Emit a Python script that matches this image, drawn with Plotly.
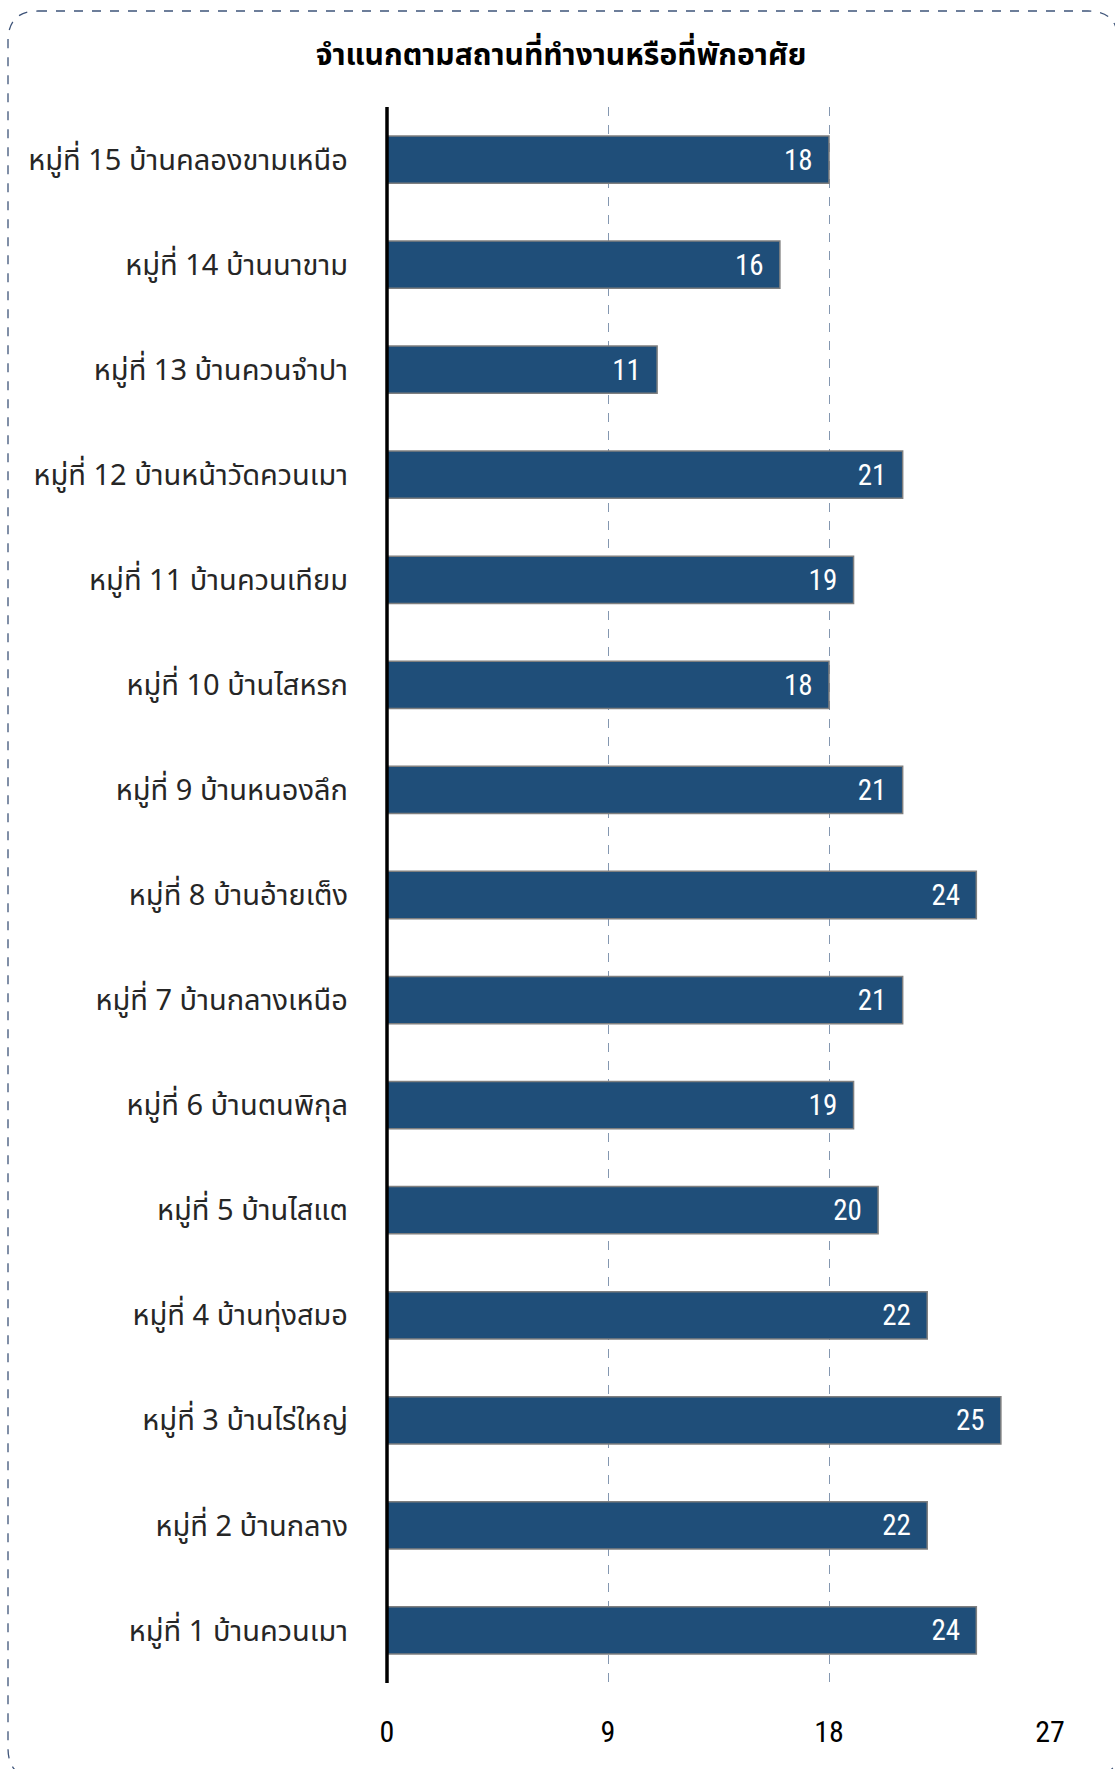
import plotly.graph_objects as go

# Villages (bottom to top) and counts
villages = [
    "หมู่ที่ 1 บ้านควนเมา",
    "หมู่ที่ 2 บ้านกลาง",
    "หมู่ที่ 3 บ้านไร่ใหญ่",
    "หมู่ที่ 4 บ้านทุ่งสมอ",
    "หมู่ที่ 5 บ้านไสแต",
    "หมู่ที่ 6 บ้านตนพิกุล",
    "หมู่ที่ 7 บ้านกลางเหนือ",
    "หมู่ที่ 8 บ้านอ้ายเต็ง",
    "หมู่ที่ 9 บ้านหนองลึก",
    "หมู่ที่ 10 บ้านไสหรก",
    "หมู่ที่ 11 บ้านควนเทียม",
    "หมู่ที่ 12 บ้านหน้าวัดควนเมา",
    "หมู่ที่ 13 บ้านควนจำปา",
    "หมู่ที่ 14 บ้านนาขาม",
    "หมู่ที่ 15 บ้านคลองขามเหนือ",
]
counts = [24, 22, 25, 22, 20, 19, 21, 24, 21, 18, 19, 21, 11, 16, 18]
x_ticks = [0, 9, 18, 27]
title_text = "จำแนกตามสถานที่ทำงานหรือที่พักอาศัย"

W, H = 1115, 1769
L, R, T, B = 387, 65, 107, 86

NARROW = "Liberation Sans Narrow, Arial Narrow, Roboto Condensed, sans-serif"
THAI = "Noto Sans Thai, Tahoma, Noto Sans, sans-serif"

fig = go.Figure()
fig.add_trace(go.Bar(
    x=counts,
    y=villages,
    orientation="h",
    width=0.45,
    marker=dict(color="#1F4E79", line=dict(color="#7F7F7F", width=1.5)),
    text=[f"{v}\u00a0\u00a0" for v in counts],
    textposition="inside",
    insidetextanchor="end",
    constraintext="none",
    textfont=dict(color="white", size=29, family=NARROW),
    hoverinfo="skip",
))

# Rounded dashed frame around the whole chart (pixel -> paper coordinates)
pw, ph = W - L - R, H - T - B


def px(xp):
    return (xp - L) / pw


def py(yp):
    return (H - B - yp) / ph


x0, x1, y0, y1, r = 8, 1118, 11, 1778, 30
path = (
    f"M {px(x0 + r)},{py(y0)} L {px(x1 - r)},{py(y0)} "
    f"Q {px(x1)},{py(y0)} {px(x1)},{py(y0 + r)} "
    f"L {px(x1)},{py(y1 - r)} Q {px(x1)},{py(y1)} {px(x1 - r)},{py(y1)} "
    f"L {px(x0 + r)},{py(y1)} Q {px(x0)},{py(y1)} {px(x0)},{py(y1 - r)} "
    f"L {px(x0)},{py(y0 + r)} Q {px(x0)},{py(y0)} {px(x0 + r)},{py(y0)} Z"
)
fig.add_shape(type="path", path=path, xref="paper", yref="paper",
              line=dict(color="#3E5479", width=1.3, dash="dash"), layer="below")

fig.update_layout(
    width=W, height=H,
    margin=dict(l=L, r=R, t=T, b=B),
    paper_bgcolor="white", plot_bgcolor="white",
    showlegend=False,
    bargap=0.55,
    title=dict(text=f"<b>{title_text}</b>", x=561 / W, xanchor="center",
               y=1 - 54 / H, yanchor="middle", yref="container",
               font=dict(family=THAI, size=30, color="#000000")),
    xaxis=dict(
        range=[0, 27], tickvals=x_ticks, ticktext=[str(t) for t in x_ticks],
        showgrid=True, gridcolor="#8497B0", griddash="dash", gridwidth=1,
        zeroline=False, showline=False, ticks="",
        tickfont=dict(family=NARROW, size=30, color="#000000"),
        ticklabelstandoff=28,
    ),
    yaxis=dict(
        showgrid=False, zeroline=False, ticks="",
        showline=False,
        tickfont=dict(family=THAI, size=29, color="#262626"),
        ticklabelstandoff=38,
    ),
)

# Solid baseline at zero (paper-referenced so it is not clipped by the plot area)
fig.add_shape(type="line", xref="paper", yref="paper", x0=0, x1=0, y0=0, y1=1,
              line=dict(color="#000000", width=3.5), layer="above")

fig.write_html("out.html")
